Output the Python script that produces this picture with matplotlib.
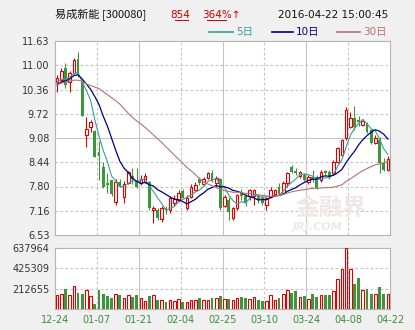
import numpy as np
import pandas as pd
import matplotlib
matplotlib.use('Agg')
import matplotlib.pyplot as plt

plt.rcParams['font.family'] = ['DejaVu Sans', 'Noto Sans CJK SC']

# ***** data *****
opens = [10.56, 10.61, 10.91, 10.56, 10.78, 11.16, 10.58, 9.16, 9.36, 9.27,
         8.72, 8.32, 7.90, 7.97, 7.41, 7.93, 7.54, 7.89, 8.08, 7.95,
         7.89, 7.93, 7.92, 7.18, 7.19, 6.95, 7.25, 7.20, 7.37, 7.45,
         7.68, 7.23, 7.54, 7.72, 8.00, 7.86, 8.02, 8.17, 7.90, 8.01,
         7.30, 7.45, 6.99, 7.23, 7.63, 7.56, 7.55, 7.55, 7.56, 7.50,
         7.32, 7.52, 7.61, 7.80, 7.63, 7.89, 8.31, 8.20, 8.07, 8.12,
         7.93, 8.05, 8.06, 7.98, 8.22, 8.19, 8.15, 8.46, 8.63, 9.07,
         9.38, 9.60, 9.55, 9.42, 9.47, 9.29, 8.96, 9.03, 8.42, 8.24]
highs = [10.74, 10.93, 11.04, 10.84, 11.17, 11.35, 10.62, 9.64, 9.56, 9.29,
         9.00, 8.46, 8.15, 7.98, 8.00, 8.00, 7.96, 8.22, 8.28, 8.28,
         8.11, 8.15, 7.95, 7.28, 7.24, 7.30, 7.29, 7.55, 7.57, 7.70,
         7.74, 7.58, 7.86, 7.93, 8.05, 8.05, 8.19, 8.24, 8.07, 8.03,
         7.58, 7.54, 7.27, 7.62, 7.75, 7.61, 7.75, 7.73, 7.62, 7.58,
         7.54, 7.79, 7.75, 7.91, 7.94, 8.19, 8.38, 8.28, 8.22, 8.15,
         8.10, 8.24, 8.10, 8.24, 8.25, 8.23, 8.50, 8.85, 9.06, 9.90,
         9.77, 9.92, 9.65, 9.58, 9.51, 9.32, 9.16, 9.11, 8.55, 8.60]
lows = [10.30, 10.56, 10.39, 10.28, 10.75, 10.69, 9.67, 8.85, 9.25, 8.59,
        7.98, 7.76, 7.63, 7.56, 7.32, 7.78, 7.38, 7.86, 7.88, 7.77,
        7.85, 7.90, 7.20, 6.84, 6.93, 6.88, 7.08, 7.10, 7.28, 7.41,
        7.49, 7.19, 7.50, 7.68, 7.84, 7.83, 7.99, 7.92, 7.80, 7.20,
        7.27, 6.92, 6.92, 7.20, 7.46, 7.29, 7.46, 7.32, 7.37, 7.31,
        7.20, 7.49, 7.58, 7.59, 7.60, 7.80, 8.15, 8.10, 8.03, 7.95,
        7.88, 7.93, 7.74, 7.93, 8.11, 8.00, 8.11, 8.43, 8.60, 9.03,
        9.33, 9.29, 9.40, 9.40, 9.20, 8.92, 8.92, 8.15, 8.20, 8.22]
closes = [10.66, 10.84, 10.47, 10.78, 11.13, 10.74, 9.67, 9.31, 9.51, 8.59,
          8.60, 7.78, 7.84, 7.60, 7.93, 7.82, 7.88, 8.19, 7.99, 7.80,
          8.01, 8.08, 7.23, 7.24, 6.97, 7.25, 7.20, 7.49, 7.48, 7.63,
          7.51, 7.49, 7.80, 7.85, 7.91, 8.01, 8.15, 7.95, 8.04, 7.23,
          7.53, 7.14, 7.23, 7.58, 7.55, 7.37, 7.70, 7.70, 7.46, 7.36,
          7.49, 7.71, 7.72, 7.61, 7.89, 8.15, 8.19, 8.16, 8.19, 7.98,
          8.05, 8.00, 7.76, 8.19, 8.17, 8.05, 8.46, 8.81, 9.03, 9.82,
          9.60, 9.38, 9.49, 9.54, 9.25, 8.96, 9.09, 8.43, 8.24, 8.54]
volumes = [149700, 160000, 204700, 142800, 242600, 170000, 160000, 201000, 139000, 56800,
           194000, 160000, 139000, 118700, 160000, 149700, 118700, 149700, 129000, 149700,
           118700, 87700, 139000, 149700, 98000, 98000, 77000, 98000, 87700, 108000,
           77000, 77000, 98000, 98000, 118700, 98000, 98000, 118700, 118700, 139000,
           108000, 108000, 98000, 113000, 129000, 119000, 108000, 124000, 98000, 88000,
           88000, 146000, 98000, 119000, 156000, 201000, 170000, 191000, 124000, 139000,
           108000, 160000, 129000, 146000, 150000, 150000, 191000, 314000, 418000, 637964,
           418000, 263000, 321000, 201000, 211000, 160000, 160000, 232000, 160000, 160000]
# moving averages at the left edge need days before the window
ma5_head = [10.55, 10.62, 10.62, 10.68]
ma10_head = [10.48, 10.55, 10.58, 10.63, 10.72, 10.74, 10.63, 10.50, 10.36]
ma30_head = [10.48, 10.52, 10.55, 10.58, 10.60, 10.60, 10.57, 10.50, 10.46, 10.42,
             10.38, 10.30, 10.22, 10.14, 10.06, 9.97, 9.85, 9.73, 9.62, 9.53,
             9.45, 9.36, 9.26, 9.16, 9.06, 8.96, 8.85, 8.74, 8.63]

date_labels = ['12-24', '01-07', '01-21', '02-04', '02-25', '03-10', '03-24', '04-08', '04-22']
price_labels = ['6.53', '7.16', '7.80', '8.44', '9.08', '9.72', '10.36', '11.00', '11.63']
vol_labels = ['212655', '425309', '637964']

# ***** figure *****
W, H = 415, 330
fig = plt.figure(figsize=(W / 100, H / 100), dpi=100, facecolor='#f0f0f0')


def px_axes(l, t, r, b):
    return fig.add_axes([l / W, 1 - b / H, (r - l) / W, (b - t) / H])


ax = px_axes(55, 41, 390, 235)
axv = px_axes(55, 248, 390, 309)

red = '#e00000'
green = '#3c963c'
grid_c = '#c4c4c4'
lbl_c = '#333333'

n = len(closes)
idx = np.arange(n)
o, h, l, c = (np.array(a) for a in (opens, highs, lows, closes))
v = np.array(volumes)
up = c >= o
lo = np.minimum(o, c)
hi = np.maximum(o, c)
body = np.maximum(hi - lo, 0.015)

# moving averages
s = pd.Series(closes)
ma5 = s.rolling(5).mean().to_numpy()
ma10 = s.rolling(10).mean().to_numpy()
ma30 = s.rolling(30).mean().to_numpy()
ma5[:len(ma5_head)] = ma5_head
ma10[:len(ma10_head)] = ma10_head
ma30[:len(ma30_head)] = ma30_head

for a in (ax, axv):
    a.set_facecolor('white')
    a.set_xlim(-0.5, n - 0.5)
    for sp in a.spines.values():
        sp.set_color('#b4b4b4')
        sp.set_linewidth(0.8)
    a.tick_params(length=0, labelsize=7, colors=lbl_c, pad=4)
    for k in range(1, 8):
        x = -0.5 + k * n / 8
        if k % 2 == 0:
            a.axvline(x, color=grid_c, lw=0.8, zorder=0)
        else:
            a.axvline(x, color=grid_c, lw=0.8, ls=(0, (2.5, 2)), zorder=0)

# main panel
ax.set_ylim(6.53, 11.63)
pt = np.linspace(6.53, 11.63, 9)
ax.set_yticks(pt)
ax.set_yticklabels(price_labels)
ax.set_xticks([])
for k, y in enumerate(pt[1:-1], start=1):
    if k == 4:
        ax.axhline(y, color=grid_c, lw=0.8, zorder=0)
    else:
        ax.axhline(y, color=grid_c, lw=0.8, ls=(0, (2.5, 2)), zorder=0)

# watermark
ax.text(0.93, 0.14, '金融界', transform=ax.transAxes, ha='right', va='center',
        fontsize=17, fontweight='bold', color='#efe6e6', family=['Noto Sans CJK SC'], zorder=0.5)
ax.text(0.86, 0.04, 'JRJ.COM', transform=ax.transAxes, ha='right', va='center',
        fontsize=8, fontweight='bold', style='italic', color='#efe6e6', zorder=0.5)

ax.vlines(idx[up], l[up], lo[up], color=red, lw=0.8, zorder=2)
ax.vlines(idx[up], hi[up], h[up], color=red, lw=0.8, zorder=2)
ax.vlines(idx[~up], l[~up], h[~up], color=green, lw=0.8, zorder=2)
ax.bar(idx[up], body[up], bottom=lo[up], width=0.62, facecolor='white',
       edgecolor=red, lw=0.8, zorder=3)
ax.bar(idx[~up], body[~up], bottom=lo[~up], width=0.7, color=green, lw=0, zorder=3)

ax.plot(idx, ma5, color='#3a9e9a', lw=0.8, zorder=4)
ax.plot(idx, ma10, color='#000080', lw=0.9, zorder=4)
ax.plot(idx, ma30, color='#b87070', lw=0.8, zorder=4)

# volume panel
vmax = max(volumes)
axv.set_ylim(0, vmax)
vt = np.linspace(0, vmax, 4)[1:]
axv.set_yticks(vt)
axv.set_yticklabels(vol_labels)
for y in vt[:-1]:
    axv.axhline(y, color=grid_c, lw=0.8, ls=(0, (2.5, 2)), zorder=0)
axv.bar(idx[up], v[up], width=0.62, facecolor='white', edgecolor=red, lw=0.8, zorder=3)
axv.bar(idx[~up], v[~up], width=0.7, color=green, lw=0, zorder=3)
axv.set_xticks(-0.5 + np.arange(9) * n / 8)
axv.set_xticklabels(date_labels, color='#3c8c3c')

# header
fig.text(55 / W, 1 - 15 / H, '易成新能 [300080]', fontsize=8, va='center',
         family=['Noto Sans CJK SC', 'DejaVu Sans'], color='#111111')
fig.text(170 / W, 1 - 15 / H, '854', fontsize=7.5, va='center', color='#cc0000')
fig.text(202 / W, 1 - 15 / H, '364%↑', fontsize=7.5, va='center', color='#cc0000')
fig.add_artist(plt.Line2D([175 / W, 188 / W], [1 - 20 / H] * 2, color='#cc0000', lw=0.7))
fig.add_artist(plt.Line2D([207 / W, 226 / W], [1 - 20 / H] * 2, color='#cc0000', lw=0.7))
fig.text(388 / W, 1 - 15 / H, '2016-04-22 15:00:45', fontsize=7.5, va='center', ha='right',
         color='#111111')

# legend
leg = [('5日', '#3a9e9a', 209, 233), ('10日', '#000080', 272, 293), ('30日', '#b87070', 337, 360)]
for txt, col, x0, x1 in leg:
    fig.add_artist(plt.Line2D([x0 / W, x1 / W], [1 - 32 / H] * 2, color=col, lw=1.2))
    fig.text((x1 + 3) / W, 1 - 32 / H, txt, fontsize=7.5, va='center', color=col,
             family=['DejaVu Sans', 'Noto Sans CJK SC'])

fig.savefig('out.png', dpi=100, facecolor=fig.get_facecolor())
